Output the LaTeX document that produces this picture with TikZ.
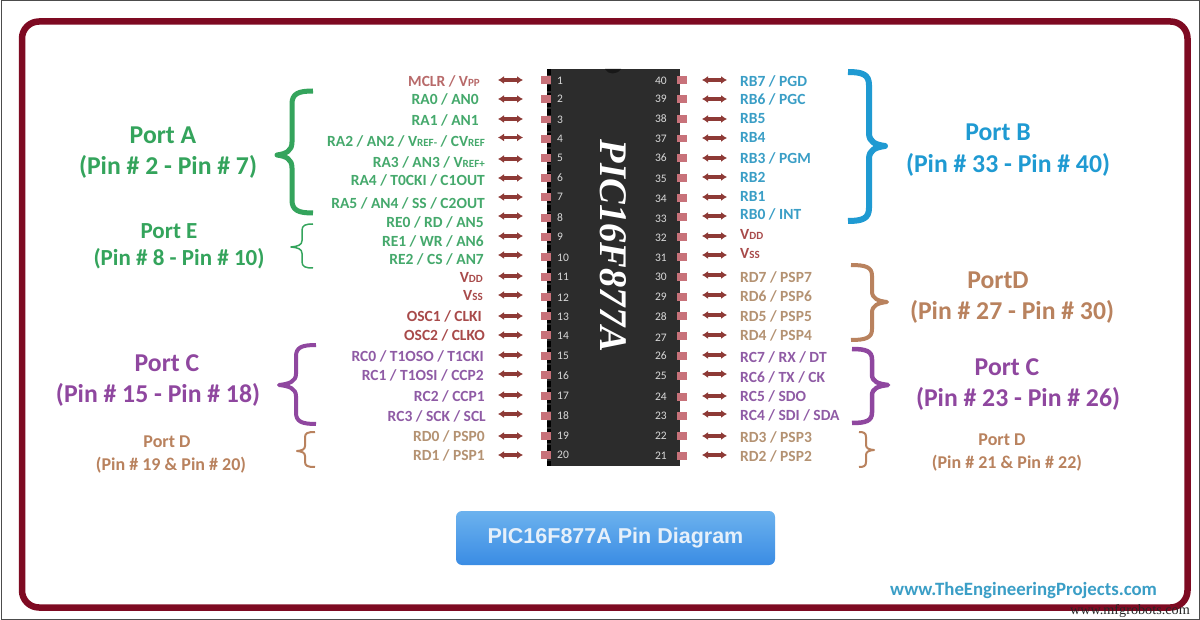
\documentclass[tikz,border=0pt]{standalone}
\usepackage{fontspec}
\setmainfont{Carlito}
\newfontfamily\btnfont{Liberation Sans}
\newfontfamily\chipfont{Liberation Serif}
\usetikzlibrary{arrows.meta}
\definecolor{framered}{HTML}{7E0A22}
\definecolor{chipgray}{HTML}{2C2C2C}
\definecolor{pinred}{HTML}{C8727A}
\definecolor{arrowred}{HTML}{8E3A36}
\definecolor{cred}{HTML}{B86A6A}
\definecolor{cosc}{HTML}{A84A4A}
\definecolor{cgreen}{HTML}{45A96C}
\definecolor{cblue}{HTML}{3A9EC6}
\definecolor{cbrown}{HTML}{B49272}
\definecolor{cpurple}{HTML}{8F5BA5}
\definecolor{bgreen}{HTML}{34A45C}
\definecolor{bblue}{HTML}{1F9AD2}
\definecolor{bpurple}{HTML}{8F479F}
\definecolor{bbrown}{HTML}{B9825E}
\definecolor{btntop}{HTML}{6CB2EE}
\definecolor{btnbot}{HTML}{3A8CE4}
\definecolor{btntext}{HTML}{E6F0FA}
\newcommand{\sm}[1]{{\fontsize{11}{12}\selectfont #1}}
\newcommand{\portbrace}[9]{%
  \pgfmathsetmacro{\xa}{#5+(#4-#5)*0.3}
  \pgfmathsetmacro{\xb}{#6+(#5-#6)*0.6}
  \pgfmathsetmacro{\cr}{max(5,min(13,(#9-#7)/7))}
  \draw[bracestyle,draw=#2,line width=#3pt]
   (#4,#7) .. controls (\xa,#7) and (#5,#7+0.2*\cr) .. (#5,#7+\cr)
   -- (#5,#8-\cr) .. controls (#5,#8-0.3*\cr) and (\xb,#8-0.1*\cr) .. (#6,#8)
   .. controls (\xb,#8+0.1*\cr) and (#5,#8+0.3*\cr) .. (#5,#8+\cr)
   -- (#5,#9-\cr) .. controls (#5,#9-0.2*\cr) and (\xa,#9) .. (#4,#9);}
\tikzset{
  framebox/.style={draw=framered,line width=6.5pt,rounded corners=17pt},
  chipbody/.style={fill=chipgray,draw=none},
  pinpad/.style={fill=pinred,draw=none,minimum width=10pt,minimum height=7.5pt,inner sep=0pt},
  pinarrow/.style={draw=arrowred,line width=3.4pt,{Latex[length=6pt,width=8pt]}-{Latex[length=6pt,width=8pt]}},
  pinnum/.style={text=black!15,font=\fontsize{11.5}{12}\selectfont,inner sep=0pt},
  pintext/.style={font=\fontsize{15.5}{16}\bfseries\selectfont,inner sep=0pt},
  bracestyle/.style={line cap=butt,line join=round},
  bigport/.style={font=\fontsize{25.7}{27}\bfseries\selectfont,inner sep=0pt},
  midport/.style={font=\fontsize{23}{25}\bfseries\selectfont,inner sep=0pt},
  smallport/.style={font=\fontsize{18}{20}\bfseries\selectfont,inner sep=0pt},
}
\begin{document}
\begin{tikzpicture}[x=1pt,y=-1pt]
\useasboundingbox (0,0) rectangle (1200,620);
\fill[white] (0,0) rectangle (1200,620);
\draw[black!70,line width=1pt] (1,0.5) rectangle (1199.5,619);
\draw[framebox] (22,21.5) rectangle (1187.5,607.5);

% chip
\fill[chipbody] (547,69) rectangle (680,466);
\draw[black,line width=4pt,dash pattern=on 6pt off 2pt] (549,69) -- (549,466);
\fill[black!45!chipgray] (605,69) .. controls (608,75) and (617,75) .. (621,69) -- cycle;
\node[rotate=-90,text=white,inner sep=0pt] (chipname) at (613.5,246)
  {\resizebox{212pt}{26pt}{\chipfont\bfseries\itshape PIC16F877A}};

% left pins: number / pad y / arrow y / number y / label y / label right / colour / text
\foreach \n/\py/\ay/\ny/\ty/\tx/\col/\txt in {
 1/80/80/81/81/480/cred/{MCLR / V\sm{PP}},
 2/99/99/99/99.5/479/cgreen/{RA0 / AN0},
 3/119.5/119/120/120/479/cgreen/{RA1 / AN1},
 4/139/137.5/139/141/485/cgreen/{RA2 / AN2 / V\sm{REF-} / CV\sm{REF}},
 5/158/159/158/162/485/cgreen/{RA3 / AN3 / V\sm{REF+}},
 6/178/178/178/180/485/cgreen/{RA4 / T0CKI / C1OUT},
 7/197/197/197/203/485/cgreen/{RA5 / AN4 / SS / C2OUT},
 8/218/216/218/222/484/cgreen/{RE0 / RD / AN5},
 9/237/236/237/241/484/cgreen/{RE1 / WR / AN6},
 10/257/255/258/259/484/cgreen/{RE2 / CS / AN7},
 11/277/276/277/277/483/cosc/{V\sm{DD}},
 12/297/295/298/296/483/cosc/{V\sm{SS}},
 13/316/316/317/316/482/cosc/{OSC1 / CLKI},
 14/335/335/336/335/485/cosc/{OSC2 / CLKO},
 15/356/355/356/356/484/cpurple/{RC0 / T1OSO / T1CKI},
 16/375/374/376/375/484/cpurple/{RC1 / T1OSI / CCP2},
 17/396/395/396/396/485/cpurple/{RC2 / CCP1},
 18/416/414/416/416/486/cpurple/{RC3 / SCK / SCL},
 19/436/436/436/436/485/cbrown/{RD0 / PSP0},
 20/455/455/455/455/485/cbrown/{RD1 / PSP1}}{
  \node[pinpad] (p\n) at (546,\py) {};
  \node[pinnum,anchor=west] (n\n) at (557,\ny) {\n};
  \node[pintext,anchor=east,text=\col] (l\n) at (\tx,\ty) {\txt};
  \coordinate (a\n) at (498,\ay);
  \coordinate (b\n) at (523,\ay);
  \draw[pinarrow] (a\n) -- (b\n);
}
% right pins
\foreach \n/\py/\ay/\ny/\ty/\col/\txt in {
 40/80/80/81/81/cblue/{RB7 / PGD},
 39/99/99/99/99/cblue/{RB6 / PGC},
 38/119/119/119/119/cblue/{RB5},
 37/138.5/138/139/137/cblue/{RB4},
 36/158/158/158/158/cblue/{RB3 / PGM},
 35/178/177/179/177/cblue/{RB2},
 34/198/197/199/196/cblue/{RB1},
 33/217/216/219/214/cblue/{RB0 / INT},
 32/237/236/238/234/cosc/{V\sm{DD}},
 31/257/255/258/254/cosc/{V\sm{SS}},
 30/277/275/277/277/cbrown/{RD7 / PSP7},
 29/297/295/297/296/cbrown/{RD6 / PSP6},
 28/316/315/317/316/cbrown/{RD5 / PSP5},
 27/336/335/338/335/cbrown/{RD4 / PSP4},
 26/356/355/356/357/cpurple/{RC7 / RX / DT},
 25/376/374/376/377/cpurple/{RC6 / TX / CK},
 24/397/396/397/396/cpurple/{RC5 / SDO},
 23/416/414/416/415/cpurple/{RC4 / SDI / SDA},
 22/436/436/436/437/cbrown/{RD3 / PSP3},
 21/456/455/456/456/cbrown/{RD2 / PSP2}}{
  \node[pinpad] (p\n) at (682,\py) {};
  \node[pinnum,anchor=east] (n\n) at (667,\ny) {\n};
  \node[pintext,anchor=west,text=\col] (l\n) at (740,\ty) {\txt};
  \coordinate (a\n) at (702,\ay);
  \coordinate (b\n) at (727,\ay);
  \draw[pinarrow] (a\n) -- (b\n);
}

% braces
\portbrace{A}{bgreen}{5}{313}{292}{277}{91}{155}{213}
\portbrace{E}{bgreen}{1.5}{313}{302}{291}{224}{247}{268}
\portbrace{CL}{bpurple}{4}{316}{296}{279}{345}{385}{424}
\portbrace{DL}{bbrown}{2}{315}{305}{297}{432}{451}{467}
\portbrace{B}{bblue}{6}{848}{869}{885}{72}{146}{221}
\portbrace{DR}{bbrown}{4}{851}{872}{887}{265}{302}{340}
\portbrace{CR}{bpurple}{4.5}{852}{872}{888}{349}{385}{423}
\portbrace{DS}{bbrown}{2}{859}{866}{874}{432}{450}{467}

% port captions
\node[bigport,text=bgreen] (pa1) at (163,135) {Port A};
\node[bigport,text=bgreen] (pa2) at (168,167) {(Pin \# 2 - Pin \# 7)};
\node[midport,text=bgreen] (pe1) at (169,231) {Port E};
\node[midport,text=bgreen] (pe2) at (179,259) {(Pin \# 8 - Pin \# 10)};
\node[bigport,text=bpurple] (pc1) at (167,363) {Port C};
\node[bigport,text=bpurple] (pc2) at (158,395) {(Pin \# 15 - Pin \# 18)};
\node[smallport,text=bbrown] (pd1) at (167,442) {Port D};
\node[smallport,text=bbrown] (pd2) at (171,465) {(Pin \# 19 \& Pin \# 20)};
\node[bigport,text=bblue] (pb1) at (998,132) {Port B};
\node[bigport,text=bblue] (pb2) at (1008,165) {(Pin \# 33 - Pin \# 40)};
\node[bigport,text=bbrown] (pdr1) at (998,280) {PortD};
\node[bigport,text=bbrown] (pdr2) at (1012,312) {(Pin \# 27 - Pin \# 30)};
\node[bigport,text=bpurple] (pcr1) at (1007,367) {Port C};
\node[bigport,text=bpurple] (pcr2) at (1018,399) {(Pin \# 23 - Pin \# 26)};
\node[smallport,text=bbrown] (pds1) at (1002,440) {Port D};
\node[smallport,text=bbrown] (pds2) at (1007,463) {(Pin \# 21 \& Pin \# 22)};

% button
\node[rounded corners=6pt,top color=btntop,bottom color=btnbot,
  minimum width=319pt,minimum height=54pt,inner sep=0pt,text=btntext,
  font=\btnfont\bfseries\fontsize{21.5}{23}\selectfont] (button) at (615.5,538) {\raisebox{-2.5pt}{PIC16F877A Pin Diagram}};

\node[text=cblue,inner sep=0pt,anchor=west,font=\fontsize{18.8}{20}\bfseries\selectfont] (site) at (890,590) {www.TheEngineeringProjects.com};
\node[text=black!85,inner sep=0pt,anchor=east,font=\chipfont\fontsize{14.2}{16}\selectfont] (mark) at (1190,611) {www.mfgrobots.com};
\end{tikzpicture}
\end{document}
